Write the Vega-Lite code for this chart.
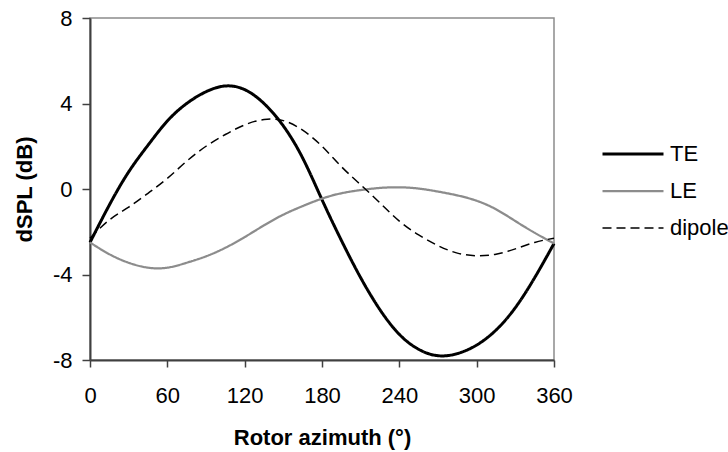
{
  "$schema": "https://vega.github.io/schema/vega-lite/v6.json",
  "width": 464,
  "height": 342,
  "autosize": {"type": "none"},
  "padding": {"left": 90, "top": 18, "right": 174, "bottom": 92},
  "background": "white",
  "config": {
    "view": {"stroke": "#8c8c8c", "strokeWidth": 1.5},
    "font": "Liberation Sans",
    "axis": {
      "grid": false,
      "domainColor": "#404040",
      "domainWidth": 2,
      "tickColor": "#404040",
      "tickWidth": 1.5,
      "labelFont": "Liberation Sans",
      "labelFontSize": 22,
      "labelColor": "#000000",
      "titleFont": "Liberation Sans",
      "titleFontSize": 22,
      "titleFontWeight": "bold",
      "titleColor": "#000000",
      "zindex": 1
    },
    "legend": {
      "labelFont": "Liberation Sans",
      "labelFontSize": 22,
      "labelColor": "#000000"
    }
  },
  "data": {
    "values": [
      {"azimuth": 0, "dSPL": -2.5, "series": "TE"},
      {"azimuth": 15, "dSPL": -0.75, "series": "TE"},
      {"azimuth": 30, "dSPL": 0.8, "series": "TE"},
      {"azimuth": 45, "dSPL": 2.05, "series": "TE"},
      {"azimuth": 60, "dSPL": 3.18, "series": "TE"},
      {"azimuth": 75, "dSPL": 4.0, "series": "TE"},
      {"azimuth": 90, "dSPL": 4.55, "series": "TE"},
      {"azimuth": 105, "dSPL": 4.82, "series": "TE"},
      {"azimuth": 120, "dSPL": 4.65, "series": "TE"},
      {"azimuth": 135, "dSPL": 4.0, "series": "TE"},
      {"azimuth": 150, "dSPL": 2.95, "series": "TE"},
      {"azimuth": 165, "dSPL": 1.45, "series": "TE"},
      {"azimuth": 180, "dSPL": -0.5, "series": "TE"},
      {"azimuth": 195, "dSPL": -2.4, "series": "TE"},
      {"azimuth": 210, "dSPL": -4.15, "series": "TE"},
      {"azimuth": 225, "dSPL": -5.65, "series": "TE"},
      {"azimuth": 240, "dSPL": -6.8, "series": "TE"},
      {"azimuth": 255, "dSPL": -7.5, "series": "TE"},
      {"azimuth": 270, "dSPL": -7.8, "series": "TE"},
      {"azimuth": 285, "dSPL": -7.7, "series": "TE"},
      {"azimuth": 300, "dSPL": -7.3, "series": "TE"},
      {"azimuth": 315, "dSPL": -6.6, "series": "TE"},
      {"azimuth": 330, "dSPL": -5.55, "series": "TE"},
      {"azimuth": 345, "dSPL": -4.15, "series": "TE"},
      {"azimuth": 360, "dSPL": -2.55, "series": "TE"},
      {"azimuth": 0, "dSPL": -2.5, "series": "LE"},
      {"azimuth": 15, "dSPL": -3.05, "series": "LE"},
      {"azimuth": 30, "dSPL": -3.45, "series": "LE"},
      {"azimuth": 45, "dSPL": -3.68, "series": "LE"},
      {"azimuth": 60, "dSPL": -3.68, "series": "LE"},
      {"azimuth": 75, "dSPL": -3.45, "series": "LE"},
      {"azimuth": 90, "dSPL": -3.15, "series": "LE"},
      {"azimuth": 105, "dSPL": -2.75, "series": "LE"},
      {"azimuth": 120, "dSPL": -2.25, "series": "LE"},
      {"azimuth": 135, "dSPL": -1.7, "series": "LE"},
      {"azimuth": 150, "dSPL": -1.2, "series": "LE"},
      {"azimuth": 165, "dSPL": -0.8, "series": "LE"},
      {"azimuth": 180, "dSPL": -0.45, "series": "LE"},
      {"azimuth": 195, "dSPL": -0.2, "series": "LE"},
      {"azimuth": 210, "dSPL": -0.05, "series": "LE"},
      {"azimuth": 225, "dSPL": 0.05, "series": "LE"},
      {"azimuth": 240, "dSPL": 0.08, "series": "LE"},
      {"azimuth": 255, "dSPL": 0.02, "series": "LE"},
      {"azimuth": 270, "dSPL": -0.12, "series": "LE"},
      {"azimuth": 285, "dSPL": -0.3, "series": "LE"},
      {"azimuth": 300, "dSPL": -0.55, "series": "LE"},
      {"azimuth": 315, "dSPL": -0.95, "series": "LE"},
      {"azimuth": 330, "dSPL": -1.5, "series": "LE"},
      {"azimuth": 345, "dSPL": -2.05, "series": "LE"},
      {"azimuth": 360, "dSPL": -2.55, "series": "LE"},
      {"azimuth": 0, "dSPL": -2.3, "series": "dipole"},
      {"azimuth": 15, "dSPL": -1.45, "series": "dipole"},
      {"azimuth": 30, "dSPL": -0.85, "series": "dipole"},
      {"azimuth": 45, "dSPL": -0.2, "series": "dipole"},
      {"azimuth": 60, "dSPL": 0.5, "series": "dipole"},
      {"azimuth": 75, "dSPL": 1.3, "series": "dipole"},
      {"azimuth": 90, "dSPL": 2.0, "series": "dipole"},
      {"azimuth": 105, "dSPL": 2.55, "series": "dipole"},
      {"azimuth": 120, "dSPL": 3.0, "series": "dipole"},
      {"azimuth": 135, "dSPL": 3.25, "series": "dipole"},
      {"azimuth": 150, "dSPL": 3.2, "series": "dipole"},
      {"azimuth": 165, "dSPL": 2.75, "series": "dipole"},
      {"azimuth": 180, "dSPL": 2.0, "series": "dipole"},
      {"azimuth": 195, "dSPL": 1.05, "series": "dipole"},
      {"azimuth": 210, "dSPL": 0.2, "series": "dipole"},
      {"azimuth": 225, "dSPL": -0.65, "series": "dipole"},
      {"azimuth": 240, "dSPL": -1.5, "series": "dipole"},
      {"azimuth": 255, "dSPL": -2.15, "series": "dipole"},
      {"azimuth": 270, "dSPL": -2.65, "series": "dipole"},
      {"azimuth": 285, "dSPL": -3.0, "series": "dipole"},
      {"azimuth": 300, "dSPL": -3.12, "series": "dipole"},
      {"azimuth": 315, "dSPL": -3.05, "series": "dipole"},
      {"azimuth": 330, "dSPL": -2.8, "series": "dipole"},
      {"azimuth": 345, "dSPL": -2.5, "series": "dipole"},
      {"azimuth": 360, "dSPL": -2.3, "series": "dipole"}
    ]
  },
  "mark": {"type": "line", "interpolate": "natural", "strokeCap": "butt"},
  "encoding": {
    "x": {
      "field": "azimuth",
      "type": "quantitative",
      "scale": {"domain": [0, 360], "nice": false, "zero": false},
      "axis": {
        "values": [0, 60, 120, 180, 240, 300, 360],
        "title": "Rotor azimuth (°)",
        "tickSize": 7,
        "labelPadding": 18,
        "titlePadding": 21,
        "labelFlush": false
      }
    },
    "y": {
      "field": "dSPL",
      "type": "quantitative",
      "scale": {"domain": [-8, 8], "nice": false, "zero": false},
      "axis": {
        "values": [-8, -4, 0, 4, 8],
        "title": "dSPL (dB)",
        "tickSize": 8,
        "labelPadding": 10,
        "titlePadding": 16,
        "labelExpr": "'' + datum.value",
        "labelFlush": false
      }
    },
    "color": {
      "field": "series",
      "type": "nominal",
      "scale": {"domain": ["TE", "LE", "dipole"], "range": ["#000000", "#8c8c8c", "#000000"]},
      "legend": {
        "title": null,
        "orient": "none",
        "legendX": 511,
        "legendY": 121,
        "symbolType": "stroke",
        "symbolSize": 3721,
        "clipHeight": 30,
        "rowPadding": 7,
        "labelOffset": 5,
        "padding": 0
      }
    },
    "strokeDash": {
      "field": "series",
      "type": "nominal",
      "scale": {"domain": ["TE", "LE", "dipole"], "range": [[1, 0], [1, 0], [9, 5]]},
      "legend": {
        "title": null,
        "orient": "none",
        "legendX": 511,
        "legendY": 121,
        "symbolType": "stroke",
        "symbolSize": 3721,
        "clipHeight": 30,
        "rowPadding": 7,
        "labelOffset": 5,
        "padding": 0
      }
    },
    "strokeWidth": {
      "field": "series",
      "type": "nominal",
      "scale": {"domain": ["TE", "LE", "dipole"], "range": [3, 1.5, 1.75]},
      "legend": {
        "title": null,
        "orient": "none",
        "legendX": 511,
        "legendY": 121,
        "symbolType": "stroke",
        "symbolSize": 3721,
        "clipHeight": 30,
        "rowPadding": 7,
        "labelOffset": 5,
        "padding": 0
      }
    }
  }
}
